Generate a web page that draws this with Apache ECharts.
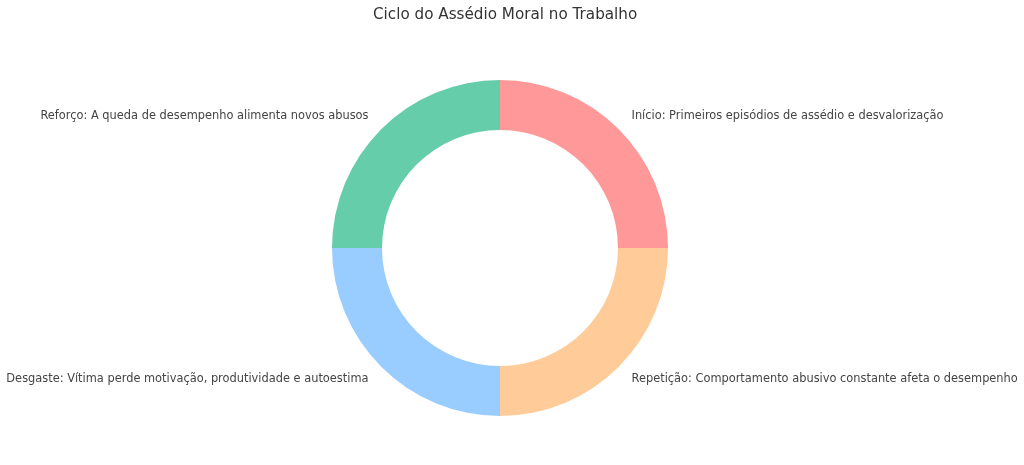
<!DOCTYPE html>
<html>
<head>
<meta charset="utf-8">
<script src="https://cdn.jsdelivr.net/npm/echarts@6/dist/echarts.min.js"></script>
<style>
  html, body { margin: 0; padding: 0; background: #fff; }
  #main { width: 1024px; height: 465px; }
</style>
</head>
<body>
<div id="main"></div>
<script>
// cycle stages, all equal share
var stages = [
  'Início: Primeiros episódios de assédio e desvalorização',
  'Repetição: Comportamento abusivo constante afeta o desempenho',
  'Desgaste: Vítima perde motivação, produtividade e autoestima',
  'Reforço: A queda de desempenho alimenta novos abusos'
];
var shares = [1, 1, 1, 1];
var colors = ['#ff9999', '#ffcc99', '#99ccff', '#66cdaa'];

var myChart = echarts.init(document.getElementById('main'));

var option = {
  animation: false,
  title: {
    text: 'Ciclo do Assédio Moral no Trabalho',
    left: 368,
    top: 3,
    textStyle: { fontFamily: 'DejaVu Sans', fontSize: 15.2, fontWeight: 'normal', color: '#333' }
  },
  color: colors,
  series: [{
    type: 'pie',
    center: [500, 248],
    radius: [118, 168],
    startAngle: 90,
    clockwise: true,
    avoidLabelOverlap: false,
    label: {
      show: true,
      position: 'outside',
      fontFamily: 'DejaVu Sans',
      fontSize: 11.4,
      color: '#444',
      distanceToLabelLine: 0
    },
    labelLine: { show: false, length: 18, length2: 0 },
    itemStyle: { borderWidth: 0 },
    data: stages.map(function (s, i) { return { name: s, value: shares[i] }; })
  }]
};

myChart.setOption(option);
window.addEventListener('resize', myChart.resize);
</script>
</body>
</html>
